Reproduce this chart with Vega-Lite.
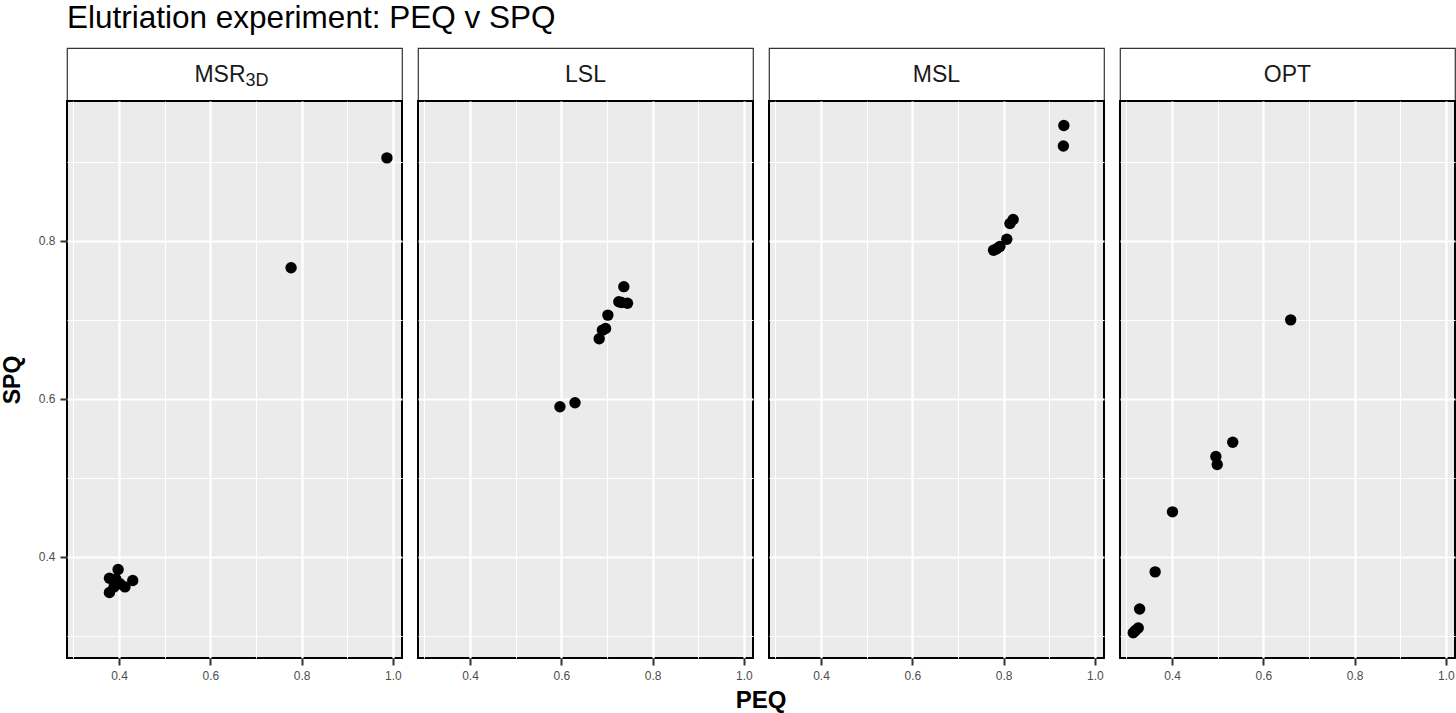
{
  "$schema": "https://vega.github.io/schema/vega-lite/v6.json",
  "padding": {"left": 0, "top": 2, "right": 0, "bottom": 0},
  "background": "white",
  "title": {"text": "Elutriation experiment: PEQ v SPQ", "anchor": "start", "frame": "group", "fontSize": 31.5, "fontWeight": "normal", "font": "Liberation Sans", "color": "black", "offset": 13},
  "datasets": {
    "pts": [
      {"panel": "MSR3D", "PEQ": 0.987, "SPQ": 0.905},
      {"panel": "MSR3D", "PEQ": 0.777, "SPQ": 0.766},
      {"panel": "MSR3D", "PEQ": 0.398, "SPQ": 0.384},
      {"panel": "MSR3D", "PEQ": 0.379, "SPQ": 0.373},
      {"panel": "MSR3D", "PEQ": 0.430, "SPQ": 0.370},
      {"panel": "MSR3D", "PEQ": 0.379, "SPQ": 0.355},
      {"panel": "MSR3D", "PEQ": 0.402, "SPQ": 0.366},
      {"panel": "MSR3D", "PEQ": 0.413, "SPQ": 0.362},
      {"panel": "MSR3D", "PEQ": 0.389, "SPQ": 0.362},
      {"panel": "MSR3D", "PEQ": 0.393, "SPQ": 0.372},
      {"panel": "LSL", "PEQ": 0.597, "SPQ": 0.590},
      {"panel": "LSL", "PEQ": 0.630, "SPQ": 0.595},
      {"panel": "LSL", "PEQ": 0.683, "SPQ": 0.676},
      {"panel": "LSL", "PEQ": 0.690, "SPQ": 0.687},
      {"panel": "LSL", "PEQ": 0.697, "SPQ": 0.689},
      {"panel": "LSL", "PEQ": 0.702, "SPQ": 0.706},
      {"panel": "LSL", "PEQ": 0.726, "SPQ": 0.723},
      {"panel": "LSL", "PEQ": 0.745, "SPQ": 0.721},
      {"panel": "LSL", "PEQ": 0.737, "SPQ": 0.742},
      {"panel": "LSL", "PEQ": 0.732, "SPQ": 0.722},
      {"panel": "MSL", "PEQ": 0.932, "SPQ": 0.946},
      {"panel": "MSL", "PEQ": 0.931, "SPQ": 0.920},
      {"panel": "MSL", "PEQ": 0.821, "SPQ": 0.827},
      {"panel": "MSL", "PEQ": 0.814, "SPQ": 0.822},
      {"panel": "MSL", "PEQ": 0.807, "SPQ": 0.802},
      {"panel": "MSL", "PEQ": 0.792, "SPQ": 0.793},
      {"panel": "MSL", "PEQ": 0.778, "SPQ": 0.788},
      {"panel": "MSL", "PEQ": 0.785, "SPQ": 0.790},
      {"panel": "OPT", "PEQ": 0.660, "SPQ": 0.700},
      {"panel": "OPT", "PEQ": 0.533, "SPQ": 0.545},
      {"panel": "OPT", "PEQ": 0.496, "SPQ": 0.527},
      {"panel": "OPT", "PEQ": 0.499, "SPQ": 0.517},
      {"panel": "OPT", "PEQ": 0.401, "SPQ": 0.457},
      {"panel": "OPT", "PEQ": 0.363, "SPQ": 0.381},
      {"panel": "OPT", "PEQ": 0.329, "SPQ": 0.334},
      {"panel": "OPT", "PEQ": 0.326, "SPQ": 0.310},
      {"panel": "OPT", "PEQ": 0.315, "SPQ": 0.304},
      {"panel": "OPT", "PEQ": 0.320, "SPQ": 0.307}
    ]
  },
  "vconcat": [
    {
      "title": {"text": "PEQ", "orient": "bottom", "anchor": "middle", "frame": "group", "dx": 694, "fontSize": 24, "fontWeight": "bold", "font": "Liberation Sans", "color": "black", "offset": 7},
      "spacing": 14,
      "hconcat": [
        {
          "spacing": 0,
          "bounds": "flush",
          "vconcat": [
            {
              "width": 335, "height": 53,
              "view": {"stroke": "#333333", "strokeWidth": 1.2, "fill": "white"},
              "data": {"values": [{"main": "MSR", "sub": "3D"}]},
              "layer": [
                {"mark": {"type": "text", "fontSize": 23, "font": "Liberation Sans", "color": "#1A1A1A", "align": "right", "dx": 11}, "encoding": {"text": {"field": "main"}}},
                {"mark": {"type": "text", "fontSize": 18, "font": "Liberation Sans", "color": "#1A1A1A", "align": "left", "dx": 11, "dy": 6}, "encoding": {"text": {"field": "sub"}}}
              ]
            },
            {
              "width": 335, "height": 557,
              "view": {"stroke": "black", "strokeWidth": 2, "fill": "#EBEBEB"},
              "data": {"name": "pts"},
              "transform": [{"filter": "datum.panel == 'MSR3D'"}],
              "mark": {"type": "circle", "size": 130, "color": "black", "opacity": 1},
              "encoding": {
                "x": {"field": "PEQ", "type": "quantitative", "scale": {"domain": [0.286, 1.02], "nice": false, "zero": false},
                  "axis": {"title": null, "values": [0.3, 0.4, 0.5, 0.6, 0.7, 0.8, 0.9, 1.0], "labelExpr": "round(datum.value*10)%2==0 ? format(datum.value,'.1f') : ''", "tickSize": {"condition": {"test": "round(datum.value*10)%2==0", "value": 7}, "value": 0}, "tickColor": {"condition": {"test": "round(datum.value*10)%2==0", "value": "#333333"}, "value": "transparent"}, "gridWidth": {"condition": {"test": "round(datum.value*10)%2==0", "value": 2.2}, "value": 1.1}}},
                "y": {"field": "SPQ", "type": "quantitative", "scale": {"domain": [0.272, 0.977], "nice": false, "zero": false},
                  "axis": {"title": "SPQ", "values": [0.3, 0.4, 0.5, 0.6, 0.7, 0.8, 0.9], "labelExpr": "round(datum.value*10)%2==0 ? format(datum.value,'.1f') : ''", "tickSize": {"condition": {"test": "round(datum.value*10)%2==0", "value": 7}, "value": 0}, "tickColor": {"condition": {"test": "round(datum.value*10)%2==0", "value": "#333333"}, "value": "transparent"}, "gridWidth": {"condition": {"test": "round(datum.value*10)%2==0", "value": 2.2}, "value": 1.1}, "titleFontSize": 23, "titleFontWeight": "bold", "titleColor": "black", "titlePadding": 14}}
              }
            }
          ]
        },
        {
          "spacing": 0,
          "bounds": "flush",
          "vconcat": [
            {
              "width": 335, "height": 53,
              "view": {"stroke": "#333333", "strokeWidth": 1.2, "fill": "white"},
              "data": {"values": [{"label": "LSL"}]},
              "mark": {"type": "text", "fontSize": 23, "font": "Liberation Sans", "color": "#1A1A1A"},
              "encoding": {"text": {"field": "label"}}
            },
            {
              "width": 335, "height": 557,
              "view": {"stroke": "black", "strokeWidth": 2, "fill": "#EBEBEB"},
              "data": {"name": "pts"},
              "transform": [{"filter": "datum.panel == 'LSL'"}],
              "mark": {"type": "circle", "size": 130, "color": "black", "opacity": 1},
              "encoding": {
                "x": {"field": "PEQ", "type": "quantitative", "scale": {"domain": [0.286, 1.02], "nice": false, "zero": false},
                  "axis": {"title": null, "values": [0.3, 0.4, 0.5, 0.6, 0.7, 0.8, 0.9, 1.0], "labelExpr": "round(datum.value*10)%2==0 ? format(datum.value,'.1f') : ''", "tickSize": {"condition": {"test": "round(datum.value*10)%2==0", "value": 7}, "value": 0}, "tickColor": {"condition": {"test": "round(datum.value*10)%2==0", "value": "#333333"}, "value": "transparent"}, "gridWidth": {"condition": {"test": "round(datum.value*10)%2==0", "value": 2.2}, "value": 1.1}}},
                "y": {"field": "SPQ", "type": "quantitative", "scale": {"domain": [0.272, 0.977], "nice": false, "zero": false},
                  "axis": {"title": null, "labels": false, "ticks": false, "values": [0.3, 0.4, 0.5, 0.6, 0.7, 0.8, 0.9], "gridWidth": {"condition": {"test": "round(datum.value*10)%2==0", "value": 2.2}, "value": 1.1}}}
              }
            }
          ]
        },
        {
          "spacing": 0,
          "bounds": "flush",
          "vconcat": [
            {
              "width": 335, "height": 53,
              "view": {"stroke": "#333333", "strokeWidth": 1.2, "fill": "white"},
              "data": {"values": [{"label": "MSL"}]},
              "mark": {"type": "text", "fontSize": 23, "font": "Liberation Sans", "color": "#1A1A1A"},
              "encoding": {"text": {"field": "label"}}
            },
            {
              "width": 335, "height": 557,
              "view": {"stroke": "black", "strokeWidth": 2, "fill": "#EBEBEB"},
              "data": {"name": "pts"},
              "transform": [{"filter": "datum.panel == 'MSL'"}],
              "mark": {"type": "circle", "size": 130, "color": "black", "opacity": 1},
              "encoding": {
                "x": {"field": "PEQ", "type": "quantitative", "scale": {"domain": [0.286, 1.02], "nice": false, "zero": false},
                  "axis": {"title": null, "values": [0.3, 0.4, 0.5, 0.6, 0.7, 0.8, 0.9, 1.0], "labelExpr": "round(datum.value*10)%2==0 ? format(datum.value,'.1f') : ''", "tickSize": {"condition": {"test": "round(datum.value*10)%2==0", "value": 7}, "value": 0}, "tickColor": {"condition": {"test": "round(datum.value*10)%2==0", "value": "#333333"}, "value": "transparent"}, "gridWidth": {"condition": {"test": "round(datum.value*10)%2==0", "value": 2.2}, "value": 1.1}}},
                "y": {"field": "SPQ", "type": "quantitative", "scale": {"domain": [0.272, 0.977], "nice": false, "zero": false},
                  "axis": {"title": null, "labels": false, "ticks": false, "values": [0.3, 0.4, 0.5, 0.6, 0.7, 0.8, 0.9], "gridWidth": {"condition": {"test": "round(datum.value*10)%2==0", "value": 2.2}, "value": 1.1}}}
              }
            }
          ]
        },
        {
          "spacing": 0,
          "bounds": "flush",
          "vconcat": [
            {
              "width": 335, "height": 53,
              "view": {"stroke": "#333333", "strokeWidth": 1.2, "fill": "white"},
              "data": {"values": [{"label": "OPT"}]},
              "mark": {"type": "text", "fontSize": 23, "font": "Liberation Sans", "color": "#1A1A1A"},
              "encoding": {"text": {"field": "label"}}
            },
            {
              "width": 335, "height": 557,
              "view": {"stroke": "black", "strokeWidth": 2, "fill": "#EBEBEB"},
              "data": {"name": "pts"},
              "transform": [{"filter": "datum.panel == 'OPT'"}],
              "mark": {"type": "circle", "size": 130, "color": "black", "opacity": 1},
              "encoding": {
                "x": {"field": "PEQ", "type": "quantitative", "scale": {"domain": [0.286, 1.02], "nice": false, "zero": false},
                  "axis": {"title": null, "values": [0.3, 0.4, 0.5, 0.6, 0.7, 0.8, 0.9, 1.0], "labelExpr": "round(datum.value*10)%2==0 ? format(datum.value,'.1f') : ''", "tickSize": {"condition": {"test": "round(datum.value*10)%2==0", "value": 7}, "value": 0}, "tickColor": {"condition": {"test": "round(datum.value*10)%2==0", "value": "#333333"}, "value": "transparent"}, "gridWidth": {"condition": {"test": "round(datum.value*10)%2==0", "value": 2.2}, "value": 1.1}}},
                "y": {"field": "SPQ", "type": "quantitative", "scale": {"domain": [0.272, 0.977], "nice": false, "zero": false},
                  "axis": {"title": null, "labels": false, "ticks": false, "values": [0.3, 0.4, 0.5, 0.6, 0.7, 0.8, 0.9], "gridWidth": {"condition": {"test": "round(datum.value*10)%2==0", "value": 2.2}, "value": 1.1}}}
              }
            }
          ]
        }
      ]
    }
  ],
  "config": {
    "font": "Liberation Sans",
    "axis": {"domain": false, "grid": true, "gridColor": "white", "gridOpacity": 1, "tickWidth": 2, "labelColor": "#4D4D4D", "labelFontSize": 12, "labelFont": "Liberation Sans", "labelPadding": 5, "labelOverlap": false, "labelFlush": false, "titleFont": "Liberation Sans"}
  }
}
